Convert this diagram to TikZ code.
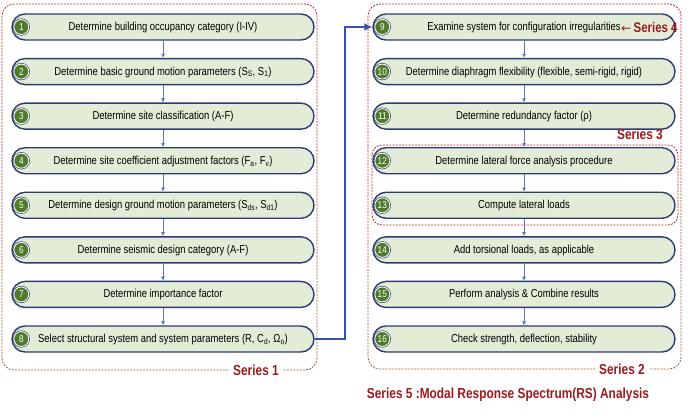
\documentclass[tikz,border=0pt]{standalone}
\usepackage{fontspec}
\setmainfont[FakeStretch=0.82]{Liberation Sans}
\newfontfamily\arrowfont{DejaVu Sans}
\usetikzlibrary{arrows.meta,calc}
\definecolor{pillfill}{RGB}{226,236,214}
\definecolor{navy}{RGB}{47,59,115}
\definecolor{numgreen}{RGB}{78,122,42}
\definecolor{flowblue}{RGB}{91,116,190}
\definecolor{linkblue}{RGB}{55,80,175}
\definecolor{serred}{RGB}{196,40,48}
\definecolor{sermid}{RGB}{170,70,60}
\definecolor{serbrown}{RGB}{140,100,60}
\definecolor{labred}{RGB}{155,27,30}
\begin{document}
\begin{tikzpicture}[x=1pt,y=-1pt,
 pill/.style={draw=navy,line width=1.4pt,fill=pillfill,rounded corners=13pt,minimum width=302pt,minimum height=26pt,inner sep=0pt,font=\fontsize{11.5}{12}\selectfont,text height=8.5pt,text depth=1.5pt},
 numc/.style={circle,fill=numgreen,draw=white,line width=0.9pt,minimum size=15pt,inner sep=0pt,text=white,font=\fontsize{10}{10}\selectfont},
 flow/.style={draw=flowblue,line width=0.7pt,-{Latex[length=4pt,width=4pt]}},
 link/.style={draw=linkblue,line width=2.4pt,-{Latex[length=8pt,width=8pt]}},
 serlab/.style={text=labred,font=\fontsize{14.5}{15}\bfseries\selectfont,inner sep=2pt},
 cont/.style={dash pattern=on 2pt off 1.2pt,line width=0.8pt,rounded corners=12pt}
]
\useasboundingbox (0,0) rectangle (692,416);
\fill[white] (0,0) rectangle (692,416);

% containers
\begin{scope}
\clip (0,0) rectangle (692,150);
\draw[cont,serred] (2,4) rectangle (317,370);
\draw[cont,serred] (368,4) rectangle (681,369);
\end{scope}
\begin{scope}
\clip (0,150) rectangle (692,270);
\draw[cont,sermid] (2,4) rectangle (317,370);
\draw[cont,sermid] (368,4) rectangle (681,369);
\end{scope}
\begin{scope}
\clip (0,270) rectangle (692,416);
\draw[cont,serbrown] (2,4) rectangle (317,370);
\draw[cont,serbrown] (368,4) rectangle (681,369);
\end{scope}
\draw[cont,serred,rounded corners=10pt] (372,145) rectangle (678,225);

% boxes
\foreach \i/\t in {
 1/{Determine building occupancy category (I-IV)},
 2/{Determine basic ground motion parameters (S\textsubscript{S}, S\textsubscript{1})},
 3/{Determine site classification (A-F)},
 4/{Determine site coefficient adjustment factors (F\textsubscript{a}, F\textsubscript{v})},
 5/{Determine design ground motion parameters (S\textsubscript{ds}, S\textsubscript{d1})},
 6/{Determine seismic design category (A-F)},
 7/{Determine importance factor},
 8/{Select structural system and system parameters (R, C\textsubscript{d}, Ω\textsubscript{o})}}
{
 \node[pill] (b\i) at (163,{27+44.57*(\i-1)}) {\t};
 \fill[navy] ($(b\i.west)+(10,0)$) circle (8.6pt);
 \node[numc] (c\i) at ($(b\i.west)+(10,0)$) {\i};
}
\foreach \i/\t in {
 9/{Examine system for configuration irregularities},
 10/{Determine diaphragm flexibility (flexible, semi-rigid, rigid)},
 11/{Determine redundancy factor (ρ)},
 12/{Determine lateral force analysis procedure},
 13/{Compute lateral loads},
 14/{Add torsional loads, as applicable},
 15/{Perform analysis \& Combine results},
 16/{Check strength, deflection, stability}}
{
 \node[pill] (b\i) at (524,{27+44.57*(\i-9)}) {\t};
 \fill[navy] ($(b\i.west)+(10,0)$) circle (8.6pt);
 \node[numc] (c\i) at ($(b\i.west)+(10,0)$) {\i};
}

% flow arrows
\foreach \a/\b in {1/2,2/3,3/4,4/5,5/6,6/7,7/8,9/10,10/11,11/12,12/13,13/14,14/15,15/16}
 \draw[flow] (b\a.south) -- (b\b.north);

% link from 8 to 9
\coordinate (k1) at (345,0);
\draw[link] (b8.east) -- (b8.east -| k1) -- (b9.west -| k1) -- (b9.west);

% labels
\node[serlab,fill=white,inner xsep=4pt] (s1) at (256,370) {Series 1};
\node[serlab,fill=white,inner xsep=4pt] (s2) at (622,369) {Series 2};
\node[serlab] (s3) at (640,134) {Series 3};
\node[serlab,anchor=west,font=\fontsize{14}{15}\bfseries\selectfont] (s4) at (619,27) {{\arrowfont\mdseries\fontsize{12}{12}\selectfont ←}\,Series 4};
\node[serlab] (s5) at (508,395) {Series 5 :Modal Response Spectrum(RS) Analysis};
\end{tikzpicture}
\end{document}
